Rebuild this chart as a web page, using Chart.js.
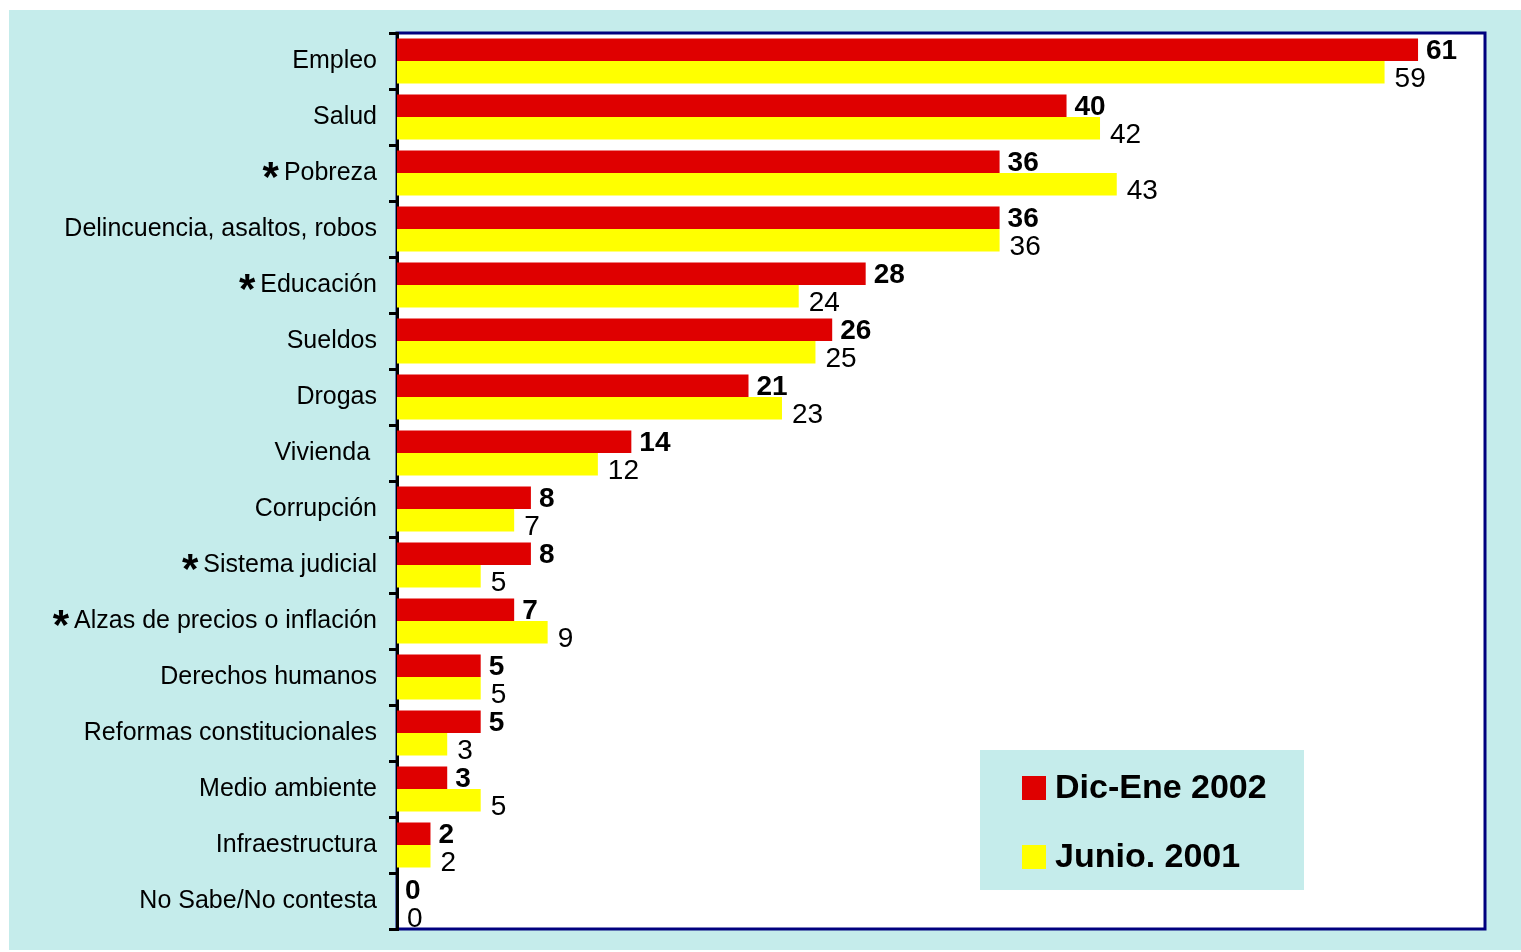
<!DOCTYPE html>
<html>
<head>
<meta charset="utf-8">
<script src="https://cdn.jsdelivr.net/npm/chart.js@4"></script>
<style>
    html, body { margin: 0; padding: 0; background: #ffffff; }
    #panel {
        position: absolute;
        left: 9px;
        top: 10px;
        width: 1512px;
        height: 940px;
        background: #C5ECEB;
    }
</style>
</head>
<body>
<div id="panel"><canvas id="problemsChart"></canvas></div>
<script>
// Problemas principales del país - comparación de dos mediciones

const categories = [
    'Empleo', 'Salud', 'Pobreza', 'Delincuencia, asaltos, robos', 'Educación',
    'Sueldos', 'Drogas', 'Vivienda ', 'Corrupción', 'Sistema judicial',
    'Alzas de precios o inflación', 'Derechos humanos', 'Reformas constitucionales',
    'Medio ambiente', 'Infraestructura', 'No Sabe/No contesta'
];
const starred = ['Pobreza', 'Educación', 'Sistema judicial', 'Alzas de precios o inflación'];

const dicEne2002 = [61, 40, 36, 36, 28, 26, 21, 14, 8, 8, 7, 5, 5, 3, 2, 0];
const junio2001 = [59, 42, 43, 36, 24, 25, 23, 12, 7, 5, 9, 5, 3, 5, 2, 0];

const seriesNames = ['Dic-Ene 2002', 'Junio. 2001'];
const RED = '#DF0000';
const YELLOW = '#FFFF00';
const FONT = "'Liberation Sans', Arial, sans-serif";

// white plot area with navy frame
const plotFrame = {
    id: 'plotFrame',
    beforeDraw(chart) {
        const { ctx, chartArea: a } = chart;
        ctx.save();
        ctx.fillStyle = '#ffffff';
        ctx.fillRect(a.left, a.top, a.right - a.left, a.bottom - a.top);
        ctx.strokeStyle = '#00007F';
        ctx.lineWidth = 3;
        ctx.strokeRect(a.left, a.top, a.right - a.left, a.bottom - a.top);
        ctx.restore();
    }
};

// value labels next to each bar
const valueLabels = {
    id: 'valueLabels',
    afterDatasetsDraw(chart) {
        const ctx = chart.ctx;
        ctx.save();
        ctx.fillStyle = '#000000';
        ctx.textAlign = 'left';
        ctx.textBaseline = 'middle';
        chart.data.datasets.forEach((ds, di) => {
            const meta = chart.getDatasetMeta(di);
            ctx.font = (di === 0 ? 'bold ' : '') + '28px ' + FONT;
            meta.data.forEach((bar, i) => {
                const dx = di === 0 ? 8 : 10;
                const dy = di === 0 ? 1 : 7;
                ctx.fillText(String(ds.data[i]), bar.x + dx, bar.y + dy);
            });
        });
        ctx.restore();
    }
};

// bold asterisks in front of some category names
const starMarks = {
    id: 'starMarks',
    afterDraw(chart) {
        const ctx = chart.ctx;
        const y = chart.scales.y;
        const labelRight = y.right - 8 - 12;
        ctx.save();
        ctx.fillStyle = '#000000';
        categories.forEach((name, i) => {
            if (!starred.includes(name)) return;
            ctx.font = '25px ' + FONT;
            const w = ctx.measureText(name).width;
            ctx.font = 'bold 42px ' + FONT;
            ctx.textAlign = 'right';
            ctx.textBaseline = 'alphabetic';
            ctx.fillText('*', labelRight - w - 5, y.getPixelForValue(i) + 18);
        });
        ctx.restore();
    }
};

// legend box in the lower right
const legendBox = {
    id: 'legendBox',
    afterDraw(chart) {
        const ctx = chart.ctx;
        ctx.save();
        ctx.fillStyle = '#C5ECEB';
        ctx.fillRect(971, 740, 324, 140);
        const colors = [RED, YELLOW];
        seriesNames.forEach((name, i) => {
            const top = 766 + i * 69;
            ctx.fillStyle = colors[i];
            ctx.fillRect(1013, top, 24, 24);
            ctx.fillStyle = '#000000';
            ctx.font = 'bold 34px ' + FONT;
            ctx.textAlign = 'left';
            ctx.textBaseline = 'middle';
            ctx.fillText(name, 1046, top + 13);
        });
        ctx.restore();
    }
};

document.addEventListener('DOMContentLoaded', () => {
    const ctx = document.getElementById('problemsChart').getContext('2d');

    new Chart(ctx, {
        type: 'bar',
        data: {
            labels: categories,
            datasets: [{
                label: seriesNames[0],
                data: dicEne2002,
                backgroundColor: RED,
                categoryPercentage: 0.8,
                barPercentage: 1.0
            }, {
                label: seriesNames[1],
                data: junio2001,
                backgroundColor: YELLOW,
                categoryPercentage: 0.8,
                barPercentage: 1.0
            }]
        },
        options: {
            indexAxis: 'y',
            responsive: true,
            maintainAspectRatio: false,
            animation: false,
            layout: {
                padding: { top: 23, right: 36, bottom: 21, left: 0 }
            },
            plugins: {
                legend: { display: false },
                tooltip: { enabled: false }
            },
            scales: {
                x: {
                    display: false,
                    min: 0,
                    max: 65
                },
                y: {
                    afterFit(scale) {
                        scale.width = 388;
                        scale.paddingTop = 0;
                        scale.paddingBottom = 0;
                    },
                    border: {
                        display: true,
                        color: '#000000',
                        width: 3
                    },
                    grid: {
                        offset: true,
                        drawOnChartArea: false,
                        drawTicks: true,
                        tickLength: 8,
                        color: '#000000',
                        lineWidth: 3
                    },
                    ticks: {
                        padding: 12,
                        color: '#000000',
                        font: { family: FONT, size: 25 }
                    }
                }
            }
        },
        plugins: [plotFrame, valueLabels, starMarks, legendBox]
    });
});
</script>
</body>
</html>
